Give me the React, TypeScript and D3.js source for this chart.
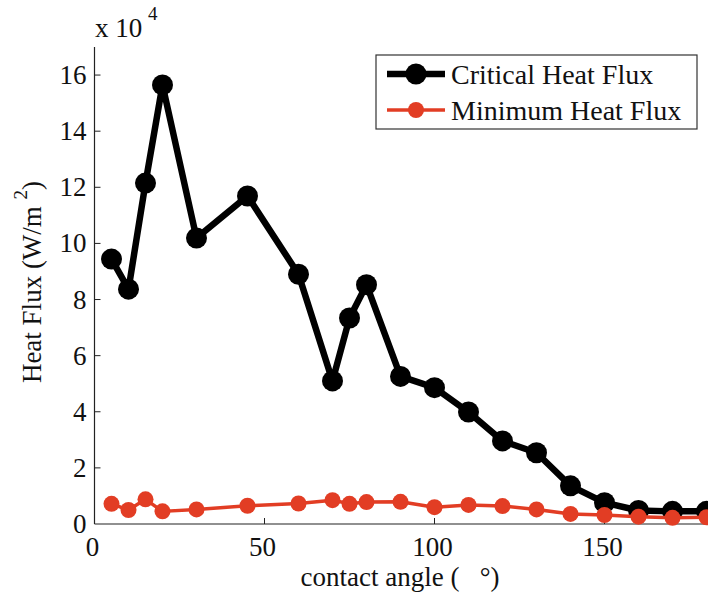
import React from "react";
import * as d3 from "d3";

const angles = [5, 10, 15, 20, 30, 45, 60, 70, 75, 80, 90, 100, 110, 120, 130, 140, 150, 160, 170, 180];
const criticalHeatFlux = [9.44, 8.37, 12.15, 15.65, 10.19, 11.69, 8.9, 5.1, 7.34, 8.53, 5.26, 4.86, 3.99, 2.96, 2.54, 1.36, 0.76, 0.48, 0.45, 0.45];
const minimumHeatFlux = [0.72, 0.5, 0.88, 0.45, 0.52, 0.65, 0.73, 0.85, 0.72, 0.78, 0.79, 0.6, 0.68, 0.64, 0.52, 0.36, 0.32, 0.26, 0.22, 0.24];
const xTicks = [0, 50, 100, 150];
const yTicks = [0, 2, 4, 6, 8, 10, 12, 14, 16];
const seriesNames = ["Critical Heat Flux", "Minimum Heat Flux"];

const W = 708;
const H = 594;
const FONT = "Liberation Serif, Tinos, Times New Roman, DejaVu Serif, serif";
const RED = "#e23d24";
const TS: React.CSSProperties = { fontFamily: FONT };

export default function App() {
  const x = d3.scaleLinear().domain([0, 180]).range([94.5, 706.5]);
  const y = d3.scaleLinear().domain([0, 17]).range([524, 47]);
  const x0 = x(0);
  const y0 = y(0);

  const critPts: [number, number][] = angles.map((a, i) => [x(a), y(criticalHeatFlux[i])]);
  const minPts: [number, number][] = angles.map((a, i) => [x(a), y(minimumHeatFlux[i])]);
  const line = d3.line();

  return (
    <svg width={W} height={H} style={{ position: "absolute", left: 0, top: 0, background: "#fff", fontFamily: FONT }}>
      <rect x={0} y={0} width={W} height={H} fill="#fff" />
      {/* axes */}
      <line x1={x0} y1={y(17)} x2={x0} y2={y0} stroke="#222" strokeWidth={1.2} />
      <line x1={x0} y1={y0} x2={W} y2={y0} stroke="#222" strokeWidth={1.2} />
      {yTicks.filter((t) => t > 0).map((t) => (
        <line key={"yt" + t} x1={x0} x2={x0 + 6} y1={y(t)} y2={y(t)} stroke="#222" strokeWidth={1} />
      ))}
      {xTicks.filter((t) => t > 0).map((t) => (
        <line key={"xt" + t} x1={x(t)} x2={x(t)} y1={y0} y2={y0 - 6} stroke="#222" strokeWidth={1} />
      ))}
      {yTicks.map((t) => (
        <text key={"yl" + t} x={x0 - 8} y={y(t) + 9} textAnchor="end" fontSize={27} fill="#111" style={TS}>
          {t}
        </text>
      ))}
      {xTicks.map((t) => (
        <text key={"xl" + t} x={x(t) - 2} y={556} textAnchor="middle" fontSize={27} fill="#111" style={TS}>
          {t}
        </text>
      ))}
      {/* exponent */}
      <text x={95} y={37} fontSize={27} fill="#111" style={TS}>x 10</text>
      <text x={148} y={20} fontSize={19} fill="#111" style={TS}>4</text>
      {/* axis labels */}
      <text x={400} y={586} textAnchor="middle" fontSize={27} fill="#111" style={TS}>
        {"contact angle (\u00a0\u00a0\u00a0°)"}
      </text>
      <g transform="translate(41,282) rotate(-90)">
        <text x={0} y={0} textAnchor="middle" fontSize={27} fill="#111" style={TS}>
          <tspan>{"Heat Flux (W/m\u00a0"}</tspan>
          <tspan dy={-14} fontSize={19}>2</tspan>
          <tspan dy={14}>)</tspan>
        </text>
      </g>
      {/* series */}
      <path d={line(critPts) || ""} fill="none" stroke="#000" strokeWidth={6.5} strokeLinejoin="round" />
      {critPts.map((p, i) => (
        <circle key={"c" + i} cx={p[0]} cy={p[1]} r={10.5} fill="#000" />
      ))}
      <path d={line(minPts) || ""} fill="none" stroke={RED} strokeWidth={3.5} strokeLinejoin="round" />
      {minPts.map((p, i) => (
        <circle key={"m" + i} cx={p[0]} cy={p[1]} r={8} fill={RED} />
      ))}
      {/* legend */}
      <rect x={376} y={55} width={321} height={74} fill="#fff" stroke="#333" strokeWidth={1.2} />
      <line x1={387} x2={445} y1={74} y2={74} stroke="#000" strokeWidth={6.5} />
      <circle cx={416} cy={74} r={10.5} fill="#000" />
      <text x={451} y={84} fontSize={28} fill="#111" style={TS}>{seriesNames[0]}</text>
      <line x1={387} x2={445} y1={110} y2={110} stroke={RED} strokeWidth={3.5} />
      <circle cx={416} cy={110} r={8} fill={RED} />
      <text x={451} y={120} fontSize={28} fill="#111" style={TS}>{seriesNames[1]}</text>
    </svg>
  );
}
